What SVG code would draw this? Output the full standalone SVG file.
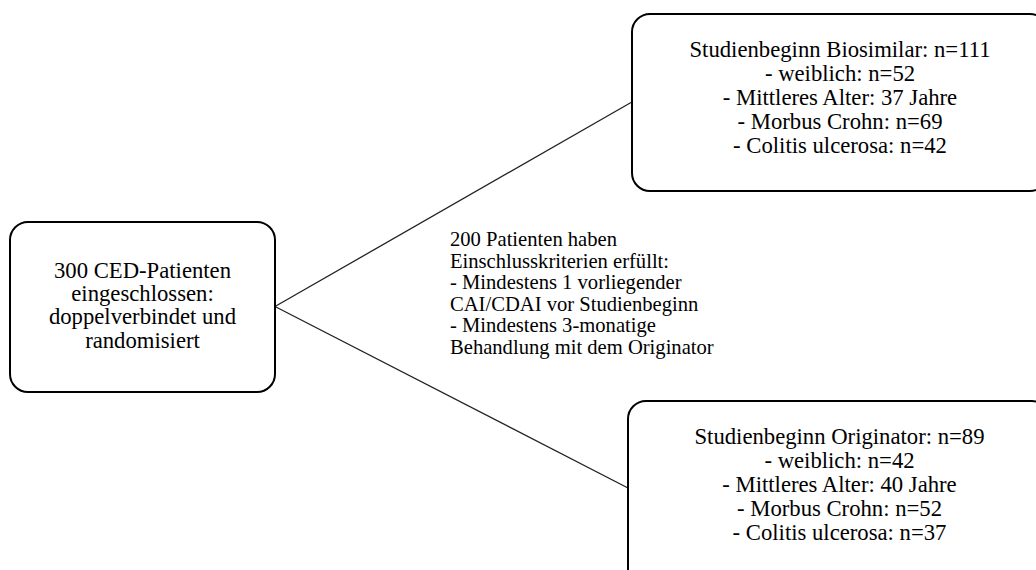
<svg xmlns="http://www.w3.org/2000/svg" width="1036" height="570" viewBox="0 0 1036 570">
<style>
.box{fill:#fff;stroke:#000;stroke-width:2}
.conn{stroke:#222;stroke-width:1.3;fill:none}
.t{font-family:"Liberation Serif","Times New Roman",serif;font-size:22.7px;fill:#000;text-anchor:middle}
.m{font-family:"Liberation Serif","Times New Roman",serif;font-size:20.6px;fill:#000}
</style>
<rect width="1036" height="570" fill="#fff"/>
<g id="connectors">
<line class="conn" x1="275" y1="306.5" x2="631" y2="102.5"/>
<line class="conn" x1="275" y1="306.5" x2="628" y2="488"/>
</g>
<g id="start">
<rect class="box" x="10" y="222" width="265" height="170" rx="18"/>
<text class="t" x="142.5" y="277.5">300 CED-Patienten</text>
<text class="t" x="142.5" y="300.5">eingeschlossen:</text>
<text class="t" x="142.5" y="324">doppelverbindet und</text>
<text class="t" x="142.5" y="347.5">randomisiert</text>
</g>
<g id="criteria">
<text class="m" x="450" y="246">200 Patienten haben</text>
<text class="m" x="450" y="267.6">Einschlusskriterien erfüllt:</text>
<text class="m" x="450" y="289.2">- Mindestens 1 vorliegender</text>
<text class="m" x="450" y="310.8">CAI/CDAI vor Studienbeginn</text>
<text class="m" x="450" y="332.4">- Mindestens 3-monatige</text>
<text class="m" x="450" y="354">Behandlung mit dem Originator</text>
</g>
<g id="biosimilar">
<rect class="box" x="632" y="14" width="416" height="177" rx="18"/>
<text class="t" x="840" y="56.5">Studienbeginn Biosimilar: n=111</text>
<text class="t" x="840" y="80.5">- weiblich: n=52</text>
<text class="t" x="840" y="104.5">- Mittleres Alter: 37 Jahre</text>
<text class="t" x="840" y="128.5">- Morbus Crohn: n=69</text>
<text class="t" x="840" y="152.5">- Colitis ulcerosa: n=42</text>
</g>
<g id="originator">
<rect class="box" x="628" y="401" width="422" height="190" rx="18"/>
<text class="t" x="839.5" y="444">Studienbeginn Originator: n=89</text>
<text class="t" x="839.5" y="468">- weiblich: n=42</text>
<text class="t" x="839.5" y="492">- Mittleres Alter: 40 Jahre</text>
<text class="t" x="839.5" y="516">- Morbus Crohn: n=52</text>
<text class="t" x="839.5" y="540">- Colitis ulcerosa: n=37</text>
</g>
</svg>
